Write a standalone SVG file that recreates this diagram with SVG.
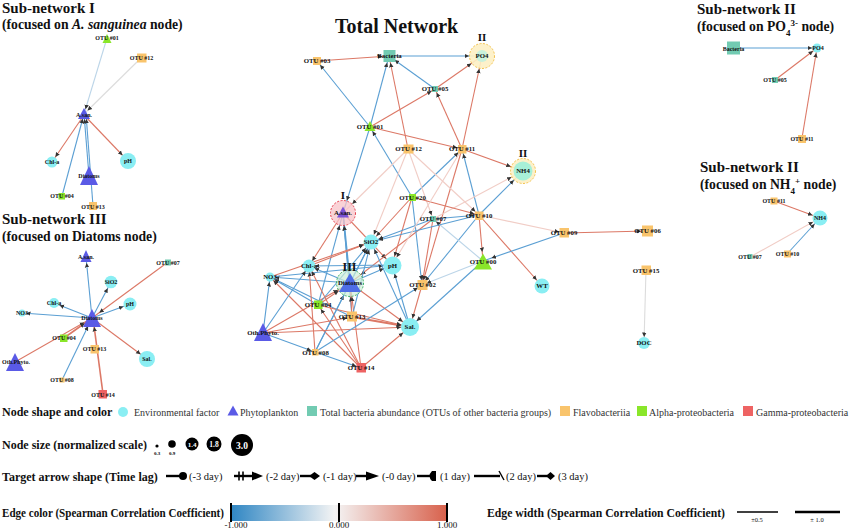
<svg xmlns="http://www.w3.org/2000/svg" width="850" height="529" viewBox="0 0 850 529">
<defs>
<style>
text{font-family:"Liberation Serif","Times New Roman",serif}
.h1{font-weight:bold;font-size:15px;fill:#111}
.h2{font-weight:bold;font-size:13.7px;fill:#111}
.tt{font-weight:bold;font-size:20px;fill:#111}
.rn{font-weight:bold;font-size:11px;fill:#111;text-anchor:middle}
.lb{font-weight:bold;font-size:6.8px;text-anchor:middle;fill:#111}
.ls{font-weight:bold;font-size:6px;text-anchor:middle;fill:#111}
.lh{font-weight:bold;font-size:12px;fill:#111}
.lg{font-size:10px;fill:#333}
.la{font-size:10.5px;fill:#111}
.env{fill:#8aeef3}
.phy{fill:#5a5ae6}
.bac{fill:#72cbb2}
.fla{fill:#f9c46c}
.alp{fill:#8ae62a}
.gam{fill:#ee6363}
.e line{fill:none;stroke-width:1.1}
.b{stroke:#5b9fd3}
.r{stroke:#dc7866}
.pp{stroke:#f1cdc6}
.pb{stroke:#bcd5e8}
.gr{stroke:#dcdcdc}
.m4{marker-end:url(#m4)}
.m5{marker-end:url(#m5)}
.m6{marker-end:url(#m6)}
.m7{marker-end:url(#m7)}
.m8{marker-end:url(#m8)}
.m9{marker-end:url(#m9)}
.m13{marker-end:url(#m13)}
.m14{marker-end:url(#m14)}
</style>
<marker id="m4" viewBox="0 -3 30 6" markerWidth="30" markerHeight="6" refX="8.5" refY="0" orient="auto" markerUnits="userSpaceOnUse"><path d="M0,-2.2L4.5,0L0,2.2z" fill="#333"/></marker>
<marker id="m5" viewBox="0 -3 30 6" markerWidth="30" markerHeight="6" refX="9.5" refY="0" orient="auto" markerUnits="userSpaceOnUse"><path d="M0,-2.2L4.5,0L0,2.2z" fill="#333"/></marker>
<marker id="m6" viewBox="0 -3 30 6" markerWidth="30" markerHeight="6" refX="10.5" refY="0" orient="auto" markerUnits="userSpaceOnUse"><path d="M0,-2.2L4.5,0L0,2.2z" fill="#333"/></marker>
<marker id="m7" viewBox="0 -3 30 6" markerWidth="30" markerHeight="6" refX="11.5" refY="0" orient="auto" markerUnits="userSpaceOnUse"><path d="M0,-2.2L4.5,0L0,2.2z" fill="#333"/></marker>
<marker id="m8" viewBox="0 -3 30 6" markerWidth="30" markerHeight="6" refX="12.5" refY="0" orient="auto" markerUnits="userSpaceOnUse"><path d="M0,-2.2L4.5,0L0,2.2z" fill="#333"/></marker>
<marker id="m9" viewBox="0 -3 30 6" markerWidth="30" markerHeight="6" refX="13.5" refY="0" orient="auto" markerUnits="userSpaceOnUse"><path d="M0,-2.2L4.5,0L0,2.2z" fill="#333"/></marker>
<marker id="m13" viewBox="0 -3 30 6" markerWidth="30" markerHeight="6" refX="17.5" refY="0" orient="auto" markerUnits="userSpaceOnUse"><path d="M0,-2.2L4.5,0L0,2.2z" fill="#333"/></marker>
<marker id="m14" viewBox="0 -3 30 6" markerWidth="30" markerHeight="6" refX="18.5" refY="0" orient="auto" markerUnits="userSpaceOnUse"><path d="M0,-2.2L4.5,0L0,2.2z" fill="#333"/></marker>
<linearGradient id="cbar" x1="0" x2="1" y1="0" y2="0">
<stop offset="0" stop-color="#2f86c3"/><stop offset="0.48" stop-color="#f4f4f4"/><stop offset="1" stop-color="#d8614c"/>
</linearGradient>
</defs>
<rect width="850" height="529" fill="#ffffff"/>

<!-- Titles -->
<text class="h1" x="2" y="13">Sub-network I</text>
<text class="h2" x="2" y="29">(focused on <tspan font-style="italic">A. sanguinea</tspan> node)</text>
<text class="h1" x="2" y="224">Sub-network III</text>
<text class="h2" x="2" y="241">(focused on Diatoms node)</text>
<text class="h1" x="697" y="14">Sub-network II</text>
<text class="h2" x="697" y="31">(focused on PO<tspan font-size="9" baseline-shift="sub">4</tspan><tspan font-size="9" baseline-shift="super">3-</tspan> node)</text>
<text class="h1" x="700" y="172">Sub-network II</text>
<text class="h2" x="700" y="189">(focused on NH<tspan font-size="9" baseline-shift="sub">4</tspan><tspan font-size="9" baseline-shift="super">+</tspan> node)</text>
<text class="tt" x="335" y="33">Total Network</text>

<!-- Connectors -->
<g id="connectors" class="e">
<!-- total network -->
<line class="r m7" x1="317" y1="61" x2="389" y2="56"/>
<line class="b m5" x1="370" y1="127" x2="317" y2="61"/>
<line class="b m7" x1="370" y1="127" x2="389" y2="56"/>
<line class="b m7" x1="435" y1="89" x2="389" y2="56"/>
<line class="r m7" x1="408" y1="149" x2="389" y2="56"/>
<line class="b m13" x1="389" y1="56" x2="482" y2="56"/>
<line class="r m4" x1="370" y1="127" x2="435" y2="89"/>
<line class="r m13" x1="435" y1="89" x2="482" y2="56"/>
<line class="r m13" x1="462" y1="149" x2="482" y2="56"/>
<line class="r m4" x1="462" y1="149" x2="435" y2="89"/>
<line class="r m5" x1="370" y1="127" x2="462" y2="149"/>
<line class="r m13" x1="462" y1="149" x2="523" y2="171"/>
<line class="b m5" x1="412" y1="197" x2="370" y2="127"/>
<line class="b m13" x1="370" y1="127" x2="343" y2="213"/>
<line class="pp m13" x1="408" y1="149" x2="343" y2="213"/>
<line class="b m5" x1="412" y1="197" x2="462" y2="149"/>
<line class="b m5" x1="479" y1="215" x2="462" y2="149"/>
<line class="r m5" x1="462" y1="149" x2="422" y2="285"/>
<line class="pp m13" x1="433" y1="219" x2="523" y2="171"/>
<line class="b m13" x1="479" y1="215" x2="523" y2="171"/>
<line class="pp m4" x1="408" y1="149" x2="433" y2="219"/>
<line class="pp m5" x1="408" y1="149" x2="479" y2="215"/>
<line class="pp m8" x1="408" y1="149" x2="371" y2="242"/>
<line class="r m6" x1="343" y1="213" x2="309" y2="266"/>
<line class="r m9" x1="343" y1="213" x2="392" y2="265"/>
<line class="b m13" x1="350" y1="283" x2="343" y2="213" style="stroke-width:1.8"/>
<line class="b m13" x1="318" y1="305" x2="343" y2="213"/>
<line class="b m13" x1="352" y1="317" x2="343" y2="213"/>
<line class="b m8" x1="350" y1="283" x2="371" y2="242"/>
<line class="b m9" x1="350" y1="283" x2="392" y2="265"/>
<line class="b m6" x1="350" y1="283" x2="309" y2="266"/>
<line class="b m5" x1="350" y1="283" x2="270" y2="277"/>
<line class="r m14" x1="433" y1="219" x2="350" y2="283"/>
<line class="r m14" x1="318" y1="305" x2="350" y2="283"/>
<line class="r m14" x1="263" y1="333" x2="350" y2="283"/>
<line class="b m14" x1="315" y1="352" x2="350" y2="283"/>
<line class="r m14" x1="352" y1="317" x2="350" y2="283"/>
<line class="r m14" x1="361" y1="368" x2="350" y2="283"/>
<line class="r m9" x1="350" y1="283" x2="410" y2="327"/>
<line class="r m8" x1="309" y1="266" x2="371" y2="242"/>
<line class="r m8" x1="270" y1="277" x2="371" y2="242"/>
<line class="b m6" x1="392" y1="265" x2="309" y2="266"/>
<line class="b m9" x1="270" y1="277" x2="392" y2="265"/>
<line class="b m5" x1="352" y1="317" x2="270" y2="277"/>
<line class="b m8" x1="352" y1="317" x2="371" y2="242"/>
<line class="r m9" x1="352" y1="317" x2="410" y2="327" style="stroke-width:1.8"/>
<line class="r m9" x1="318" y1="305" x2="410" y2="327"/>
<line class="b m8" x1="318" y1="305" x2="371" y2="242"/>
<line class="b m5" x1="318" y1="305" x2="270" y2="277"/>
<line class="r m6" x1="361" y1="368" x2="309" y2="266"/>
<line class="r m5" x1="361" y1="368" x2="270" y2="277"/>
<line class="r m9" x1="361" y1="368" x2="410" y2="327"/>
<line class="r m5" x1="361" y1="368" x2="318" y2="305"/>
<line class="r m6" x1="315" y1="352" x2="309" y2="266"/>
<line class="b m8" x1="315" y1="352" x2="371" y2="242"/>
<line class="b m5" x1="315" y1="352" x2="361" y2="368"/>
<line class="b m5" x1="263" y1="333" x2="270" y2="277"/>
<line class="b m4" x1="263" y1="333" x2="315" y2="352"/>
<line class="r m5" x1="263" y1="333" x2="352" y2="317"/>
<line class="r m9" x1="263" y1="333" x2="410" y2="327"/>
<line class="b m6" x1="263" y1="333" x2="309" y2="266"/>
<line class="b m5" x1="315" y1="352" x2="422" y2="285"/>
<line class="b m8" x1="410" y1="327" x2="371" y2="242"/>
<line class="b m9" x1="410" y1="327" x2="392" y2="265"/>
<line class="r m9" x1="422" y1="285" x2="410" y2="327"/>
<line class="b m9" x1="483" y1="261" x2="410" y2="327"/>
<line class="r m8" x1="412" y1="197" x2="371" y2="242"/>
<line class="r m9" x1="412" y1="197" x2="392" y2="265"/>
<line class="b m5" x1="412" y1="197" x2="422" y2="285"/>
<line class="r m5" x1="412" y1="197" x2="479" y2="215"/>
<line class="b m5" x1="479" y1="215" x2="422" y2="285"/>
<line class="r m9" x1="479" y1="215" x2="483" y2="261"/>
<line class="r m8" x1="479" y1="215" x2="542" y2="286"/>
<line class="b m5" x1="433" y1="219" x2="479" y2="215"/>
<line class="b m9" x1="564" y1="233" x2="483" y2="261"/>
<line class="r m6" x1="564" y1="233" x2="647" y2="231"/>
<line class="pp m5" x1="479" y1="215" x2="564" y2="233"/>
<line class="pb m5" x1="483" y1="261" x2="422" y2="285"/>
<line class="pb m4" x1="483" y1="261" x2="433" y2="219"/>
<line class="gr m6" x1="646" y1="270" x2="644" y2="343"/>
<line class="r m5" x1="433" y1="219" x2="422" y2="285"/>
<line class="b m8" x1="433" y1="219" x2="371" y2="242"/>
<line class="b m8" x1="479" y1="215" x2="371" y2="242"/>
<line class="pp m9" x1="462" y1="149" x2="392" y2="265"/>
<!-- sub-network I -->
<line class="pb m5" x1="107" y1="38" x2="84" y2="114"/>
<line class="gr m5" x1="141" y1="58" x2="84" y2="114"/>
<line class="r m6" x1="84" y1="115" x2="52" y2="162"/>
<line class="r m8" x1="84" y1="115" x2="128" y2="161"/>
<line class="b m5" x1="62" y1="196" x2="84" y2="114"/>
<line class="b m5" x1="89" y1="176" x2="84" y2="114"/>
<line class="b m5" x1="93" y1="206" x2="86" y2="114"/>
<!-- sub-network III -->
<line class="b m6" x1="92" y1="318" x2="86" y2="257"/>
<line class="b m7" x1="92" y1="318" x2="111" y2="282"/>
<line class="b m7" x1="92" y1="318" x2="130" y2="304"/>
<line class="b m6" x1="92" y1="318" x2="54" y2="303"/>
<line class="b m4" x1="92" y1="318" x2="22" y2="313"/>
<line class="r m9" x1="168" y1="262" x2="92" y2="318"/>
<line class="r m9" x1="64" y1="338" x2="92" y2="318" style="stroke-width:1.6"/>
<line class="r m9" x1="15" y1="362" x2="92" y2="318"/>
<line class="b m9" x1="62" y1="380" x2="92" y2="318"/>
<line class="r m9" x1="103" y1="394" x2="93" y2="318" style="stroke-width:1.6"/>
<line class="r m8" x1="92" y1="318" x2="147" y2="359"/>
<!-- sub-network II -->
<line class="b m5" x1="733" y1="48" x2="817" y2="48"/>
<line class="r m5" x1="775" y1="80" x2="817" y2="48"/>
<line class="r m5" x1="802" y1="138" x2="817" y2="48"/>
<line class="r m8" x1="774" y1="201" x2="820" y2="218"/>
<line class="pp m8" x1="750" y1="257" x2="820" y2="218"/>
<line class="b m8" x1="787" y1="254" x2="820" y2="218"/>
</g>

<!-- Total network nodes -->
<g id="t-otu03"><rect class="fla" x="313" y="57" width="8" height="8"/><text class="lb" x="317" y="63.3">OTU #03</text></g>
<g id="t-bacteria"><rect class="bac" x="383.5" y="50" width="12" height="12"/><text class="lb" x="389.5" y="58.3">Bacteria</text></g>
<g id="t-po4"><circle cx="482" cy="56" r="12.5" fill="#fdf0c4" fill-opacity="0.9" stroke="#f3c24a" stroke-width="1" stroke-dasharray="2 1.5"/><circle cx="482" cy="56" r="6" fill="#c9f1dc"/><text class="lb" x="482" y="58.3">PO4</text><text class="rn" x="482" y="41">II</text></g>
<g id="t-otu05"><rect class="bac" x="432" y="86" width="6" height="6"/><text class="lb" x="435" y="91.3">OTU #05</text></g>
<g id="t-otu01"><polygon class="alp" points="370,121 364.5,131 375.5,131"/><text class="lb" x="370" y="129.3">OTU #01</text></g>
<g id="t-otu12"><rect class="fla" x="403.5" y="144.5" width="10" height="9"/><text class="lb" x="408.5" y="151.3">OTU #12</text></g>
<g id="t-otu11"><rect class="fla" x="458" y="145" width="8.5" height="8.5"/><text class="lb" x="462" y="151.3">OTU #11</text></g>
<g id="t-nh4"><circle cx="523" cy="171" r="12.5" fill="#fdf0c4" fill-opacity="0.9" stroke="#f3c24a" stroke-width="1" stroke-dasharray="2 1.5"/><circle cx="523" cy="171" r="9.5" fill="#a8f0d8"/><text class="lb" x="523" y="173.3">NH4</text><text class="rn" x="523" y="157">II</text></g>
<g id="t-otu20"><rect class="alp" x="409" y="194" width="7" height="7"/><text class="lb" x="412.5" y="199.8">OTU #20</text></g>
<g id="t-asan"><circle cx="343" cy="213" r="12.5" fill="#f8c3c8" fill-opacity="0.75" stroke="#e5404f" stroke-width="1" stroke-dasharray="2 1.5"/><polygon fill="#7a52d6" points="343,206.5 337,217.5 349,217.5"/><text class="lb" x="343" y="215.3">A.san.</text><text class="rn" x="343" y="199">I</text></g>
<g id="t-otu07"><rect class="bac" x="430" y="216" width="6" height="6"/><text class="lb" x="433" y="221.3">OTU #07</text></g>
<g id="t-otu10"><rect class="fla" x="475" y="211.5" width="8.5" height="8.5"/><text class="lb" x="479" y="218">OTU #10</text></g>
<g id="t-otu09"><rect class="fla" x="559.5" y="228" width="9.5" height="9.5"/><text class="lb" x="564" y="235">OTU #09</text></g>
<g id="t-otu06"><rect class="fla" x="642" y="225.5" width="11" height="11"/><text class="lb" x="647.5" y="233.3">OTU #06</text></g>
<g id="t-sio2"><circle class="env" cx="371" cy="242" r="7.5"/><text class="lb" x="371" y="244.3">SiO2</text></g>
<g id="t-chla"><circle class="env" cx="309" cy="266" r="6.5"/><text class="lb" x="309" y="268.3">Chl-a</text></g>
<g id="t-ph"><circle class="env" cx="392.5" cy="265.5" r="9"/><text class="lb" x="392.5" y="268">pH</text></g>
<g id="t-diatoms"><circle cx="350" cy="283" r="13.5" fill="#cdeed8" fill-opacity="0.7" stroke="#3cb064" stroke-width="1" stroke-dasharray="2 1.5"/><polygon fill="#4f6ee6" points="350,273 339,292 361,292"/><text class="lb" x="350" y="285">Diatoms</text><text class="rn" x="349.5" y="270.5" style="font-size:12px">III</text></g>
<g id="t-no3"><circle class="env" cx="270" cy="277" r="4.5"/><text class="lb" x="270" y="279.3">NO3</text></g>
<g id="t-otu00"><polygon class="alp" points="483,253.5 474,269.5 492,269.5"/><text class="lb" x="483" y="263.5">OTU #00</text></g>
<g id="t-otu02"><rect class="fla" x="417.5" y="280" width="10" height="10"/><text class="lb" x="422.5" y="287.3">OTU #02</text></g>
<g id="t-otu15"><rect class="fla" x="641.5" y="265.5" width="9.5" height="9.5"/><text class="lb" x="646" y="272.5">OTU #15</text></g>
<g id="t-wt"><circle class="env" cx="542" cy="286" r="7.5"/><text class="lb" x="542" y="288.3">WT</text></g>
<g id="t-otu04"><rect class="alp" x="314" y="300.5" width="8.5" height="8.5"/><text class="lb" x="318" y="307.3">OTU #04</text></g>
<g id="t-otu13"><rect class="fla" x="347" y="311.5" width="10" height="10"/><text class="lb" x="352" y="319">OTU #13</text></g>
<g id="t-sal"><circle class="env" cx="410" cy="327" r="9"/><text class="lb" x="410" y="329.3">Sal.</text></g>
<g id="t-oth"><polygon class="phy" points="263,323 254,341 272,341"/><text class="lb" x="263" y="335">Oth.Phyto.</text></g>
<g id="t-otu08"><rect class="fla" x="312" y="349" width="6.5" height="6.5"/><text class="lb" x="315.5" y="354.5">OTU #08</text></g>
<g id="t-otu14"><rect class="gam" x="356.5" y="363" width="9.5" height="9.5"/><text class="lb" x="361" y="370">OTU #14</text></g>
<g id="t-doc"><circle class="env" cx="644" cy="343" r="6"/><text class="lb" x="644" y="345.3">DOC</text></g>

<!-- Sub-network I nodes -->
<g id="s1-otu01"><polygon class="alp" points="107,34 102.5,43 111.5,43"/><text class="ls" x="107" y="40">OTU #01</text></g>
<g id="s1-otu12"><rect class="fla" x="137" y="53.5" width="9.5" height="9"/><text class="ls" x="141.5" y="60">OTU #12</text></g>
<g id="s1-asan"><polygon class="phy" points="84,108 78,119 90,119"/><text class="ls" x="84" y="117">A.san.</text></g>
<g id="s1-chla"><circle class="env" cx="52" cy="162" r="5.5"/><text class="ls" x="52" y="164">Chl-a</text></g>
<g id="s1-ph"><circle class="env" cx="128" cy="161" r="8"/><text class="ls" x="128" y="163">pH</text></g>
<g id="s1-diatoms"><polygon class="phy" points="89,166 80,185 98,185"/><text class="ls" x="89" y="177.5">Diatoms</text></g>
<g id="s1-otu04"><rect class="alp" x="58.5" y="193" width="6.5" height="6.5"/><text class="ls" x="62" y="198">OTU #04</text></g>
<g id="s1-otu13"><rect class="fla" x="89" y="202" width="8" height="8"/><text class="ls" x="93" y="208.5">OTU #13</text></g>

<!-- Sub-network III nodes -->
<g id="s3-asan"><polygon class="phy" points="86,250 80.5,262 91.5,262"/><text class="ls" x="86" y="259">A.san.</text></g>
<g id="s3-otu07"><rect class="bac" x="165" y="259.5" width="6" height="6"/><text class="ls" x="168" y="264.5">OTU #07</text></g>
<g id="s3-sio2"><circle class="env" cx="111" cy="282" r="6.3"/><text class="ls" x="111" y="284">SiO2</text></g>
<g id="s3-ph"><circle class="env" cx="130" cy="304" r="6.5"/><text class="ls" x="130" y="306">pH</text></g>
<g id="s3-chla"><circle class="env" cx="54" cy="303" r="5"/><text class="ls" x="54" y="305">Chl-a</text></g>
<g id="s3-no3"><circle class="env" cx="22" cy="313" r="3.5"/><text class="ls" x="22" y="315">NO3</text></g>
<g id="s3-diatoms"><polygon class="phy" points="92,309 83,327 101,327"/><text class="ls" x="92" y="320">Diatoms</text></g>
<g id="s3-otu04"><rect class="alp" x="60" y="334.5" width="7.5" height="7.5"/><text class="ls" x="64" y="340">OTU #04</text></g>
<g id="s3-otu13"><rect class="fla" x="90.5" y="345" width="8.5" height="8.5"/><text class="ls" x="94.5" y="351">OTU #13</text></g>
<g id="s3-oth"><polygon class="phy" points="15,353 6,371 24,371"/><text class="ls" x="16" y="364">Oth.Phyto.</text></g>
<g id="s3-sal"><circle class="env" cx="147" cy="359" r="8"/><text class="ls" x="147" y="361">Sal.</text></g>
<g id="s3-otu08"><rect class="fla" x="59.5" y="377.5" width="5" height="5"/><text class="ls" x="62" y="382">OTU #08</text></g>
<g id="s3-otu14"><rect class="gam" x="98.5" y="390" width="8.5" height="8.5"/><text class="ls" x="103" y="396.5">OTU #14</text></g>

<!-- Sub-network II nodes -->
<g id="p-bacteria"><rect class="bac" x="727" y="41.5" width="13" height="13"/><text class="ls" x="733.5" y="50.5">Bacteria</text></g>
<g id="p-po4"><circle class="env" cx="817" cy="48" r="4.5"/><text class="ls" x="818" y="50">PO4</text></g>
<g id="p-otu05"><rect class="bac" x="772" y="77" width="6" height="6"/><text class="ls" x="775" y="82">OTU #05</text></g>
<g id="p-otu11"><rect class="fla" x="798" y="135" width="8" height="8"/><text class="ls" x="802" y="141">OTU #11</text></g>
<g id="n-otu11"><rect class="fla" x="770.5" y="197.5" width="7" height="7"/><text class="ls" x="774" y="203">OTU #11</text></g>
<g id="n-nh4"><circle class="env" cx="820" cy="218" r="7.5"/><text class="ls" x="820" y="220">NH4</text></g>
<g id="n-otu07"><rect class="bac" x="747.5" y="254" width="5" height="5"/><text class="ls" x="750" y="258.5">OTU #07</text></g>
<g id="n-otu10"><rect class="fla" x="784" y="250.5" width="7" height="7"/><text class="ls" x="787.5" y="256">OTU #10</text></g>

<!-- Legend -->
<g id="legend-shape">
<text class="lh" x="2" y="416">Node shape and color</text>
<circle class="env" cx="123" cy="412" r="5"/><text class="lg" x="134" y="416">Environmental factor</text>
<polygon class="phy" points="233,405.5 227.5,415.5 238.5,415.5"/><text class="lg" x="240" y="416">Phytoplankton</text>
<rect class="bac" x="307" y="406" width="10" height="10"/><text class="lg" x="320" y="416">Total bacteria abundance (OTUs of other bacteria groups)</text>
<rect class="fla" x="560" y="406" width="10" height="10"/><text class="lg" x="573" y="416">Flavobacteriia</text>
<rect class="alp" x="637" y="406" width="10" height="10"/><text class="lg" x="649" y="416">Alpha-proteobacteria</text>
<rect class="gam" x="743" y="406" width="10" height="10"/><text class="lg" x="756" y="416">Gamma-proteobacteria</text>
</g>
<g id="legend-size">
<text class="lh" x="2" y="449">Node size (normalized scale)</text>
<circle cx="157" cy="446" r="1.6" fill="#000"/><text x="157" y="455" style="font-size:5px;font-weight:bold;text-anchor:middle">0.3</text>
<circle cx="172" cy="444" r="3.8" fill="#000"/><text x="172" y="455" style="font-size:5px;font-weight:bold;text-anchor:middle">0.9</text>
<circle cx="192" cy="444" r="6.5" fill="#000"/><text x="192" y="446.5" style="font-size:7px;font-weight:bold;text-anchor:middle;fill:#fff">1.4</text>
<circle cx="214" cy="444" r="7.5" fill="#000"/><text x="214" y="446.5" style="font-size:7.5px;font-weight:bold;text-anchor:middle;fill:#fff">1.8</text>
<circle cx="242" cy="445" r="11" fill="#000"/><text x="242" y="448.5" style="font-size:9.5px;font-weight:bold;text-anchor:middle;fill:#fff">3.0</text>
</g>
<g id="legend-arrow" stroke="#000" stroke-width="2.4">
<text class="lh" x="2" y="481" stroke="none">Target arrow shape (Time lag)</text>
<line x1="166" y1="476" x2="181" y2="476"/><circle cx="183" cy="476" r="4" stroke="none" fill="#000"/>
<text class="la" x="189" y="480" stroke="none">(-3 day)</text>
<line x1="234" y1="476" x2="254" y2="476"/><line x1="239" y1="471.5" x2="239" y2="480.5" stroke-width="1.6"/><line x1="243" y1="471.5" x2="243" y2="480.5" stroke-width="1.6"/><polygon points="252,471.5 263,476 252,480.5" stroke="none" fill="#000"/>
<text class="la" x="266" y="480" stroke="none">(-2 day)</text>
<line x1="300" y1="476" x2="311" y2="476"/><polygon points="309,476 314.5,472 320,476 314.5,480" stroke="none" fill="#000"/>
<text class="la" x="323" y="480" stroke="none">(-1 day)</text>
<line x1="356" y1="476" x2="369" y2="476"/><polygon points="366,471.5 379,476 366,480.5" stroke="none" fill="#000"/>
<text class="la" x="382" y="480" stroke="none">(-0 day)</text>
<line x1="417" y1="476" x2="434" y2="476"/><path d="M432,471 L436,471 L436,481 L432,481 Q427,476 432,471z" stroke="none" fill="#000"/>
<text class="la" x="440" y="480" stroke="none">(1 day)</text>
<line x1="474" y1="476" x2="500" y2="476"/><line x1="499" y1="471" x2="504" y2="480" stroke-width="1.4"/>
<text class="la" x="506" y="480" stroke="none">(2 day)</text>
<line x1="537" y1="476" x2="548" y2="476"/><polygon points="546,476 550.5,472 555,476 550.5,480" stroke="none" fill="#000"/>
<text class="la" x="558" y="480" stroke="none">(3 day)</text>
</g>
<g id="legend-edge">
<text class="lh" x="2" y="517" textLength="222" lengthAdjust="spacingAndGlyphs">Edge color (Spearman Correlation Coefficient)</text>
<rect x="231" y="505" width="216" height="16" fill="url(#cbar)"/>
<line x1="231" y1="503" x2="231" y2="522" stroke="#000" stroke-width="2"/>
<line x1="339" y1="503" x2="339" y2="522" stroke="#000" stroke-width="2"/>
<line x1="447" y1="503" x2="447" y2="522" stroke="#000" stroke-width="2"/>
<text x="236" y="528" style="font-size:9px;text-anchor:middle;fill:#111">-1.000</text>
<text x="339" y="528" style="font-size:9px;text-anchor:middle;fill:#111">0.000</text>
<text x="447" y="528" style="font-size:9px;text-anchor:middle;fill:#111">1.000</text>
<text class="lh" x="487" y="517" textLength="238" lengthAdjust="spacingAndGlyphs">Edge width (Spearman Correlation Coefficient)</text>
<line x1="737" y1="512" x2="778" y2="512" stroke="#000" stroke-width="1.5"/>
<text x="757" y="522" style="font-size:6.5px;text-anchor:middle;fill:#111">±0.5</text>
<line x1="795" y1="512" x2="840" y2="512" stroke="#000" stroke-width="2.5"/>
<text x="817" y="522" style="font-size:6.5px;text-anchor:middle;fill:#111">± 1.0</text>
</g>
</svg>
